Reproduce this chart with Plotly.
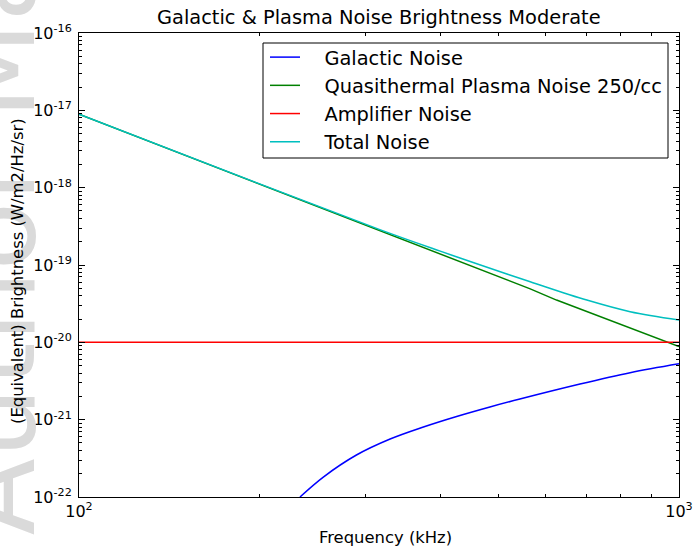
import plotly.graph_objects as go

# Frequencies in kHz, brightness in W/m2/Hz/sr
galactic_freq = [233.5, 255.4, 290, 330, 375, 426, 484, 543, 684, 829, 1000]
galactic_noise = [1.0e-22, 1.81e-22, 3.49e-22, 5.62e-22, 8.04e-22, 1.10e-21,
                  1.46e-21, 1.85e-21, 2.89e-21, 4.05e-21, 5.28e-21]

plasma_freq = [100, 318, 565, 625, 1000]
plasma_noise = [8.9e-18, 2.79e-19, 4.92e-20, 3.52e-20, 8.8e-21]

amp_freq = [100, 1000]
amp_noise = [1.0e-20, 1.0e-20]

total_freq = [100, 200, 318, 400, 450, 565, 702, 829, 1000]
total_noise = [8.9e-18, 1.12e-18, 2.85e-19, 1.51e-19, 1.10e-19, 6.08e-20,
               3.52e-20, 2.49e-20, 1.95e-20]

x_tick_vals = [100, 1000]
x_tick_text = ["10<sup>2</sup>", "10<sup>3</sup>"]
y_tick_vals = [1e-22, 1e-21, 1e-20, 1e-19, 1e-18, 1e-17, 1e-16]
y_tick_text = ["10<sup>-22</sup>", "10<sup>-21</sup>", "10<sup>-20</sup>", "10<sup>-19</sup>",
               "10<sup>-18</sup>", "10<sup>-17</sup>", "10<sup>-16</sup>"]

series = [
    ("Galactic Noise", galactic_freq, galactic_noise, "#0000ff", "spline"),
    ("Quasithermal Plasma Noise 250/cc", plasma_freq, plasma_noise, "#008000", "linear"),
    ("Amplifier Noise", amp_freq, amp_noise, "#ff0000", "linear"),
    ("Total Noise", total_freq, total_noise, "#00bfbf", "spline"),
]

FONT = "DejaVu Sans"
GAP = "\u2002\u2002"  # space between legend line sample and label

# plot area in pixels
L, R, T, B = 79, 679, 33, 497
W, H = 693, 551


def px_x(p):
    return (p - L) / (R - L)


def px_y(p):
    return (B - p) / (B - T)


fig = go.Figure()
for name, f, b, color, shape in series:
    fig.add_trace(go.Scatter(
        x=f, y=b, name=GAP + name, mode="lines",
        line=dict(color=color, width=1.5, shape=shape),
    ))

axis_common = dict(
    type="log", showline=True, linecolor="black", linewidth=1, mirror="allticks",
    ticks="inside", ticklen=6, tickcolor="black", tickwidth=1,
    showgrid=False, zeroline=False, ticklabeloverflow="allow", automargin=False,
    tickfont=dict(family=FONT, size=16, color="black"),
    minor=dict(ticks="inside", ticklen=3, tickcolor="black", dtick="D1", showgrid=False),
)

fig.update_xaxes(range=[2, 3], tickvals=x_tick_vals, ticktext=x_tick_text, **axis_common)
fig.update_yaxes(range=[-22, -16], tickvals=y_tick_vals, ticktext=y_tick_text,
                 ticklabelstandoff=3, **axis_common)

fig.update_layout(
    width=W, height=H,
    margin=dict(l=L, r=W - R, t=T, b=H - B, autoexpand=False),
    paper_bgcolor="white", plot_bgcolor="white",
    font=dict(family=FONT, color="black"),
    showlegend=True,
    legend=dict(
        x=px_x(265), y=px_y(38), xanchor="left", yanchor="top",
        bgcolor="rgba(0,0,0,0)", borderwidth=0,
        font=dict(family=FONT, size=19.4, color="black"),
    ),
    shapes=[
        # legend frame
        dict(type="rect", xref="paper", yref="paper", layer="above",
             x0=px_x(263), x1=px_x(668), y0=px_y(158), y1=px_y(43),
             line=dict(color="black", width=1), fillcolor="white"),
    ],
    annotations=[
        # faint vertical watermark along the left edge
        dict(text="Author Manuscript", textangle=-90, xref="paper", yref="paper",
             x=px_x(62), y=px_y(538), xanchor="right", yanchor="bottom",
             showarrow=False, font=dict(family=FONT, size=113, color="#dadada")),
        dict(text="Galactic &amp; Plasma Noise Brightness Moderate", xref="paper", yref="paper",
             x=0.5, y=px_y(18), xanchor="center", yanchor="middle",
             showarrow=False, font=dict(family=FONT, size=19.4, color="black")),
        dict(text="Frequency (kHz)", xref="paper", yref="paper",
             x=px_x(385), y=px_y(537), xanchor="center", yanchor="middle",
             showarrow=False, font=dict(family=FONT, size=16.4, color="black")),
        dict(text="(Equivalent) Brightness (W/m2/Hz/sr)", textangle=-90,
             xref="paper", yref="paper",
             x=px_x(17), y=px_y(271), xanchor="center", yanchor="middle",
             showarrow=False, font=dict(family=FONT, size=16.4, color="black")),
    ],
)

fig.write_html("out.html")
